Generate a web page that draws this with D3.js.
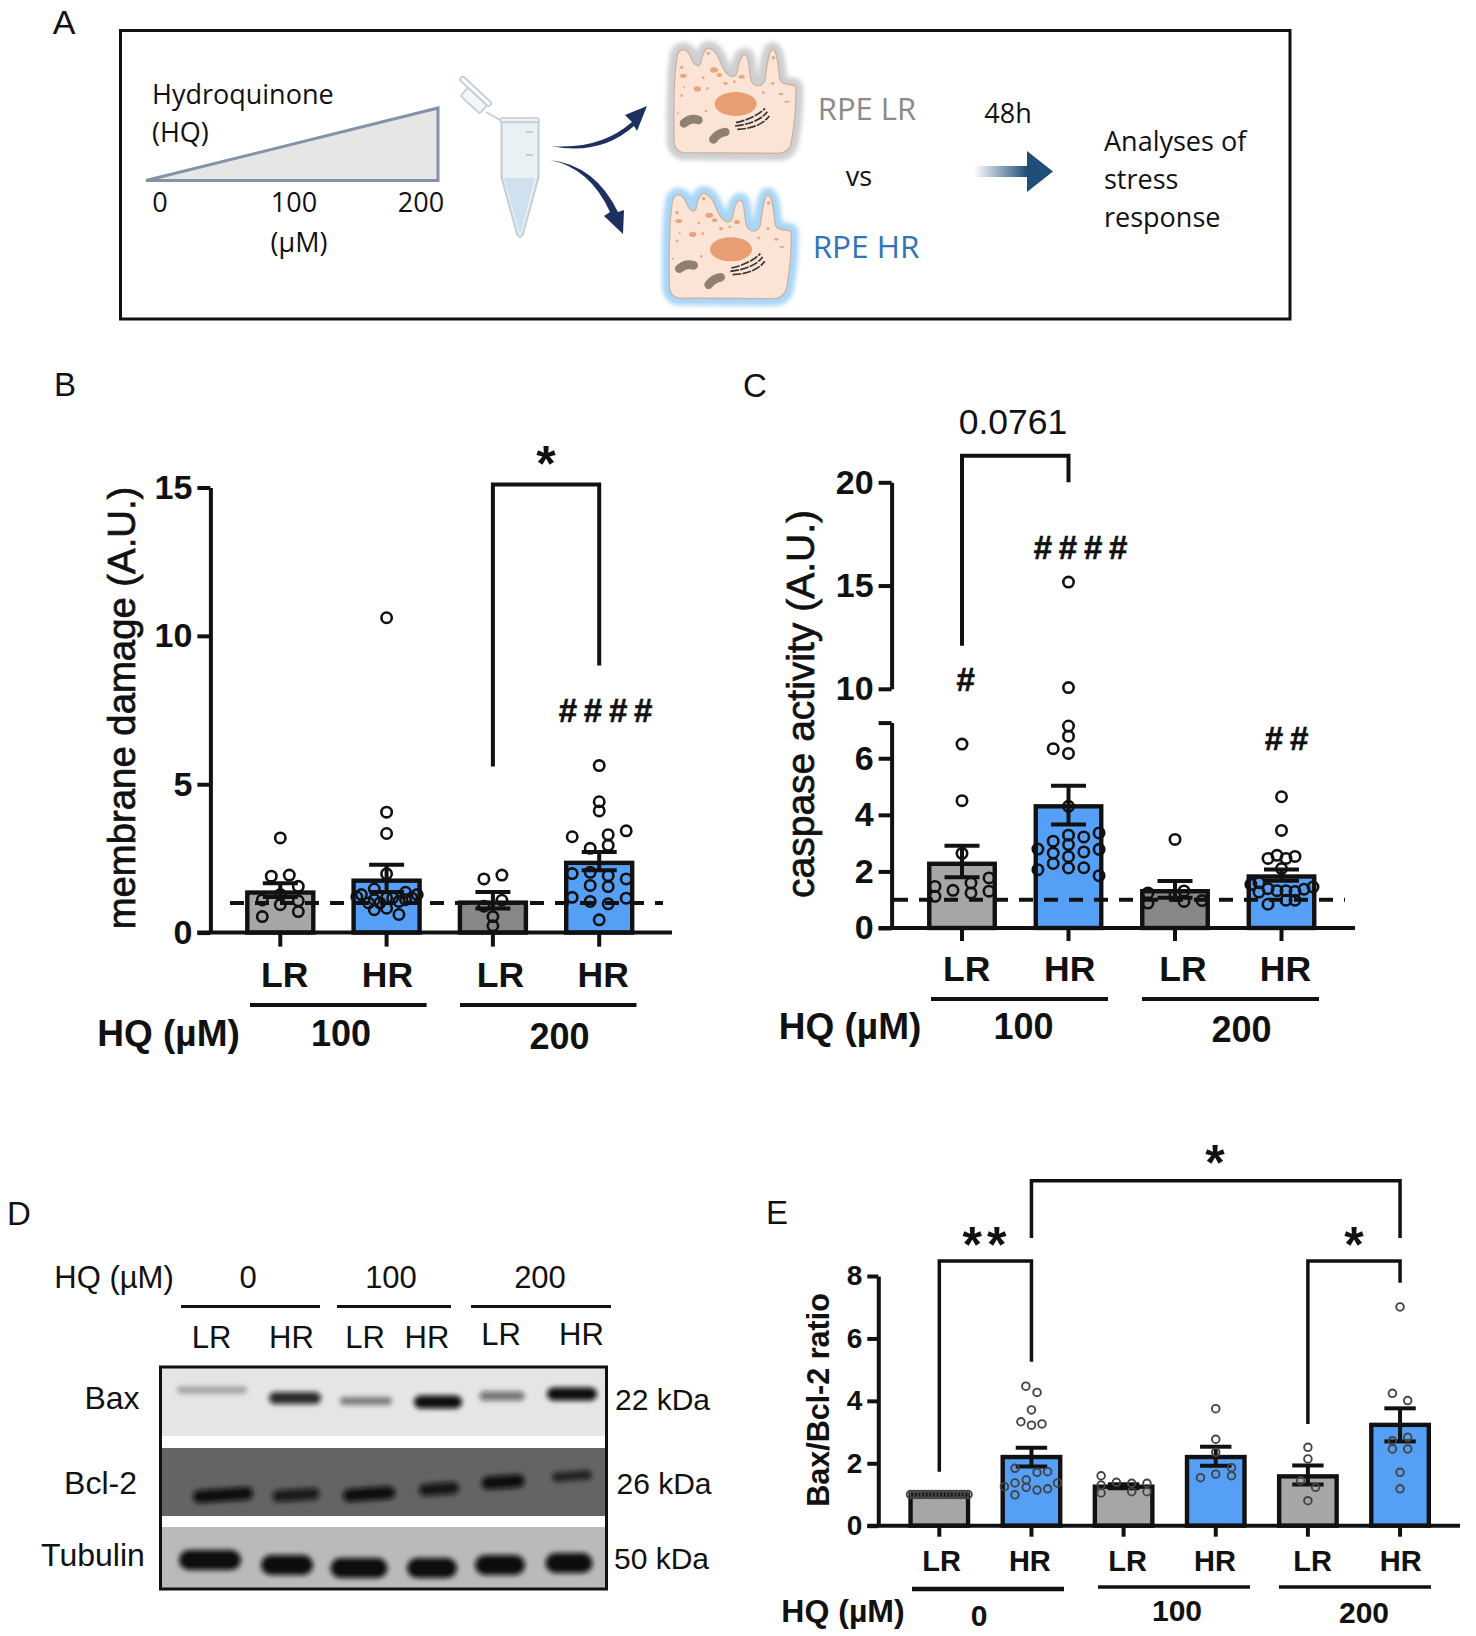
<!DOCTYPE html>
<html>
<head>
<meta charset="utf-8">
<title>HQ stress response</title>
<script src="https://cdn.jsdelivr.net/npm/d3@7"></script>
<style>
  html, body { margin: 0; padding: 0; background: #fff; }
  svg { display: block; }
  text { font-family: "Liberation Sans", Arial, sans-serif; fill: #111; }
</style>
</head>
<body>
<div id="chart"></div>
<script>
// ------ data
const barIds = ['a', 'b', 'c', 'd']
const barIdsE = ['a', 'b', 'c', 'd', 'e', 'f']
const groupLabels = ['LR', 'HR', 'LR', 'HR']
const groupLabelsE = ['LR', 'HR', 'LR', 'HR', 'LR', 'HR']

const ticksB = [0, 5, 10, 15]
const meansB = [1.35, 1.75, 1.01, 2.35]
const upperB = [1.66, 2.29, 1.37, 2.72]
const lowerB = [1.2, 1.37, 0.81, 2.1]
const pointsB = [
  [3.19, 1.9, 1.94, 1.56, 1.1, 1.28, 0.94, 1.07, 0.71, 0.54],
  [10.61, 4.06, 3.34, 1.98, 1.47, 1.28, 1.2, 1.36, 1.28, 0.77, 0.82, 0.61, 1, 1.11, 1, 1.17, 1.17, 1.05, 1.11, 1.17],
  [1.81, 1.94, 1.09, 0.89, 0.54, 0.23],
  [5.63, 4.41, 4.1, 3.43, 3.23, 3.3, 2.94, 2.84, 1.99, 2.03, 1.92, 1.81, 1.59, 1.55, 1.19, 1.16, 1.05, 0.97, 0.43]
]
// swarm columns of the points, same order as the values
const slotsB = [
  [0, -1, 1, 2, -2, 0, 0, 2, 2, -2],
  [0, 0, 0, 0, -1.37, -2.8, -3.3, 2.1, 3.4, -1.37, 0, 1.37, -2, -1.37, -0.75, 0, 0.67, 1.37, 2.1, 2.8],
  [-1, 1, 1, -1, 0, 0],
  [0, 0, 0, 3, -3, 1, 1, -1, -3, -1, 1, 3, -1, 1, -3, 3, -1, 1, 0]
]

const ticksCLow = [0, 2, 4, 6]
const ticksCHigh = [10, 15, 20]
const meansC = [2.27, 4.3, 1.3, 1.82]
const upperC = [2.91, 5.03, 1.66, 2.07]
const lowerC = [1.79, 3.66, 1.07, 1.67]
const pointsC = [
  [6.5, 4.5, 2.64, 1.47, 1.12, 1.33, 1.59, 1.24, 1.77, 1.3],
  [15.17, 10.06, 7.14, 6.78, 6.34, 6.17, 4.3, 3.07, 3.28, 3.22, 3.36, 2.95, 2.79, 2.78, 2.65, 2.69, 2.52, 2.28, 2.12, 2.13, 2.06, 1.85],
  [3.13, 1.24, 0.88, 1.31, 0.94, 0.97, 1.15],
  [4.64, 3.45, 2.46, 2.57, 2.46, 2.53, 2.1, 1.54, 1.27, 1.39, 1.32, 1.32, 1.29, 1.37, 1.45, 0.84, 0.98, 0.98, 1.6]
]
const slotsC = [
  [0, 0, 0, -3, -3, -1, 1, 1, 3, 3],
  [0, 0, 0, 0, -1.7, 0, 0, -1.7, 0, 1.7, 3.4, 0, -3.4, 3.4, -1.7, 1.7, 0, -1.7, 0, 1.7, -3.4, 3.4],
  [0, -3, -3, 1, 1, 3, 0],
  [0, 0, -1.5, -0.5, 0.5, 1.5, 0, -3.4, -2.5, -1.5, -0.5, 0.5, 1.5, 2.5, 3.5, -1.5, 0.5, 1.5, -2.5]
]

const ticksE = [0, 2, 4, 6, 8]
const meansE = [1, 2.2, 1.25, 2.2, 1.58, 3.23]
const upperE = [1, 2.5, 1.33, 2.53, 1.93, 3.76]
const lowerE = [1, 1.9, 1.2, 1.92, 1.32, 2.7]
const pointsE = [
  [1, 1, 1, 1, 1, 1, 1, 1, 1, 1, 1, 1, 1, 1, 1, 1, 1],
  [4.47, 4.27, 3.71, 3.33, 3.22, 3.26, 1.84, 1.71, 1.73, 1.47, 1.37, 1.25, 1.37, 1.23, 1.14, 1.18, 0.99],
  [1.6, 1.3, 1.05, 1.39, 1.36, 1.36, 1.09, 1.09],
  [3.75, 2.77, 2.35, 1.86, 1.54, 1.65, 1.6],
  [2.51, 2.14, 1.44, 1.23, 0.8],
  [7.01, 4.24, 4.01, 2.72, 2.83, 2.46, 2.46, 1.71, 1.18]
]
const slotsE = [
  [-3.2, -2.8, -2.4, -2, -1.6, -1.2, -0.8, -0.4, 0, 0.4, 0.8, 1.2, 1.6, 2, 2.4, 2.8, 3.2],
  [-0.62, 0.62, 0, -1.17, 0, 1.17, -1.83, 0.62, 1.8, -0.58, -1.83, -3, 2.9, -0.58, 0.62, 1.8, -1.83],
  [-2.5, -2.5, -2.5, -0.8, 0.9, 2.6, 0.9, 2.6],
  [0, 0, 0, 1.75, -1.7, 0, 1.75],
  [0, 0, -0.8, 0.85, 0],
  [0, -0.85, 0.85, -0.85, 0.85, -0.85, 0.85, 0, 0]
]

// blot band strength per lane (0 faint, 1 dark)
const bandsBax = [0.22, 0.85, 0.4, 1, 0.5, 1]
const bandsBcl = [1, 0.85, 1, 0.9, 1, 0.6]
const bandsTub = [1, 1, 1, 1, 1, 1]

const GREY = '#a6a6a9'
const GREY_DARK = '#87878a'
const BLUE = '#559ff6'

const svg = d3.select('#chart').append('svg')
  .attr('width', 1476)
  .attr('height', 1636)
  .attr('viewBox', '0 0 1476 1636')

const defs = svg.append('defs')
defs.append('filter').attr('id', 'band')
  .attr('x', '-30%').attr('y', '-60%').attr('width', '160%').attr('height', '220%')
  .append('feGaussianBlur').attr('stdDeviation', 2.6)

const arrowGrad = defs.append('linearGradient').attr('id', 'fade')
arrowGrad.append('stop').attr('offset', '0').attr('stop-color', '#fff')
arrowGrad.append('stop').attr('offset', '1').attr('stop-color', '#1f4e79')

function label(g, x, y, str, size, opts = {}) {
  return g.append('text')
    .attr('x', x)
    .attr('y', y)
    .attr('dy', '0.36em')
    .attr('text-anchor', opts.anchor || 'middle')
    .style('font-size', size + 'px')
    .style('font-weight', opts.weight || 'normal')
    .style('font-family', opts.family || null)
    .style('fill', opts.fill || null)
    .style('letter-spacing', opts.spacing || null)
    .text(str)
}

function rule(g, x1, y1, x2, y2, width, color = '#111') {
  return g.append('line')
    .attr('x1', x1).attr('y1', y1).attr('x2', x2).attr('y2', y2)
    .attr('stroke', color).attr('stroke-width', width)
}

const OPEN = '"Open Sans", sans-serif'

// ------ panel letters
label(svg, 64, 22, 'A', 34)
label(svg, 65, 384, 'B', 33)
label(svg, 755, 385, 'C', 33)
label(svg, 19, 1213, 'D', 33)
label(svg, 777, 1212, 'E', 33)

// ------ panel A, schematic
function drawCell(g, dx, dy, glow) {
  const outline = 'M672 330C672 250 668 150 682 75C690 50 712 55 722 80C732 105 745 115 752 100C756 75 765 50 780 55C800 60 808 90 820 115C835 140 855 150 862 125C866 95 875 70 888 75C900 85 895 130 905 155C915 170 935 175 945 150C950 110 955 60 968 58C985 65 985 120 990 150C1000 170 1035 160 1037 170C1040 230 1030 310 1022 345C1015 365 1000 370 980 370L700 368C680 365 672 350 672 330Z'
  const cell = g.append('g')
    .attr('transform', `translate(${450 + dx / 3},${30 + dy / 3}) scale(${1 / 3})`)
  cell.append('path').attr('d', outline)
    .attr('fill', glow).attr('stroke', glow).attr('stroke-width', 44)
    .style('filter', 'blur(7px)')
  cell.append('path').attr('d', outline)
    .attr('fill', '#fbe4d5').attr('stroke', '#c8b5a6').attr('stroke-width', 4)
  const drops = [[695, 112, 5, 5], [700, 137, 10, 6], [792, 120, 12, 8], [808, 135, 8, 6], [760, 143, 4, 4],
    [875, 140, 9, 6], [827, 160, 6, 5], [853, 155, 4, 4], [742, 177, 11, 8], [772, 175, 4, 4], [703, 172, 3, 3],
    [695, 197, 4, 4], [968, 160, 5, 4], [970, 83, 5, 5], [940, 188, 4, 4], [993, 192, 7, 4], [1010, 215, 8, 3],
    [775, 70, 5, 5], [768, 243, 4, 4], [683, 250, 3, 3]]
  cell.selectAll('ellipse.drop').data(drops).enter().append('ellipse')
    .attr('class', 'drop')
    .attr('cx', d => d[0]).attr('cy', d => d[1]).attr('rx', d => d[2]).attr('ry', d => d[3])
    .attr('fill', '#e9a67c')
  cell.append('ellipse').attr('cx', 857).attr('cy', 222).attr('rx', 63).attr('ry', 36).attr('fill', '#e79f72')
  ;['M702 280Q722 262 745 270', 'M790 328Q805 308 826 306'].forEach(d => {
    cell.append('path').attr('d', d)
      .attr('fill', 'none').attr('stroke', '#8f8072').attr('stroke-width', 26).attr('stroke-linecap', 'round')
  })
  ;['M858 278Q915 265 945 235', 'M855 288Q925 280 952 245', 'M862 298Q930 295 958 258'].forEach(d => {
    cell.append('path').attr('d', d)
      .attr('fill', 'none').attr('stroke', '#333').attr('stroke-width', 5).attr('stroke-dasharray', '26 4')
  })
}

function drawPanelA() {
  const g = svg.append('g')
  g.append('rect').attr('x', 120.5).attr('y', 30.5).attr('width', 1169.5).attr('height', 288.5)
    .attr('fill', '#fff').attr('stroke', '#111').attr('stroke-width', 3)

  g.append('path').attr('d', 'M146 180.5L438 180.5L438 108Z')
    .attr('fill', '#e6e6e6').attr('stroke', '#8492a8').attr('stroke-width', 3)

  label(g, 152, 94, 'Hydroquinone', 27, { anchor: 'start', family: OPEN })
  label(g, 152, 132, '(HQ)', 27, { anchor: 'start', family: OPEN })
  label(g, 160, 202, '0', 27, { family: OPEN })
  label(g, 294, 202, '100', 27, { family: OPEN })
  label(g, 421, 202, '200', 27, { family: OPEN })
  label(g, 299, 242, '(µM)', 27, { family: OPEN })

  // tube
  g.append('path').attr('d', 'M501.5 122L501.5 177L517 234Q520 240 523 234L538.5 177L538.5 122Z')
    .attr('fill', '#eaf1f4').attr('stroke', '#c3ced4').attr('stroke-width', 2)
  g.append('path').attr('d', 'M504 178L535 178L521 232Q520 235 519 232Z').attr('fill', '#cfe0ee')
  g.append('rect').attr('x', 500).attr('y', 118).attr('width', 39).attr('height', 4).attr('rx', 2)
    .attr('fill', '#eef3f5').attr('stroke', '#c3ced4').attr('stroke-width', 1.5)
  rule(g, 526, 132, 533, 132, 1.5, '#b5c0c6')
  rule(g, 526, 155, 533, 155, 1.5, '#b5c0c6')
  const cap = g.append('g').attr('transform', 'translate(474,96) rotate(43)')
  cap.append('rect').attr('x', -22).attr('y', -7).attr('width', 40).attr('height', 5).attr('rx', 2)
    .attr('fill', '#fff').attr('stroke', '#c3ced4').attr('stroke-width', 1.8)
  cap.append('rect').attr('x', -10).attr('y', -2).attr('width', 26).attr('height', 11).attr('rx', 2)
    .attr('fill', '#f2f6f8').attr('stroke', '#c3ced4').attr('stroke-width', 1.8)
  g.append('path').attr('d', 'M486 112L500 120').attr('fill', 'none').attr('stroke', '#c3ced4').attr('stroke-width', 2)

  // curved arrows
  g.append('path').attr('d', 'M551 146Q600 150 632 122L625 115L647 106L637 131L634 126Q600 156 551 146Z')
    .attr('fill', '#1f2f5f')
  g.append('path').attr('d', 'M550 160Q590 168 610 212L604 216L623 234L624 210L618 212Q595 165 550 160Z')
    .attr('fill', '#1f2f5f')

  drawCell(g, 0, 0, '#cfcfd2')
  drawCell(g, -14, 436, '#a9d6f7')

  label(g, 867, 109, 'RPE LR', 31, { family: OPEN, fill: '#8a8a8a' })
  label(g, 866, 247, 'RPE HR', 31.5, { family: OPEN, fill: '#2e75b6' })
  label(g, 859, 176, 'vs', 27, { family: OPEN })
  label(g, 1008, 113, '48h', 27, { family: OPEN })

  g.append('rect').attr('x', 974).attr('y', 166).attr('width', 53).attr('height', 11).attr('fill', 'url(#fade)')
  g.append('path').attr('d', 'M1027 151L1053 171.5L1027 192Z').attr('fill', '#1f4e79')

  label(g, 1104, 141, 'Analyses of', 27, { anchor: 'start', family: OPEN })
  label(g, 1104, 179, 'stress', 27, { anchor: 'start', family: OPEN })
  label(g, 1104, 217, 'response', 27, { anchor: 'start', family: OPEN })
}
drawPanelA()

// ------ bar panels
function bandScale(ids, firstCentre, step, barWidth) {
  const p = 1 - barWidth / step
  return d3.scaleBand()
    .domain(ids)
    .range([firstCentre - step / 2, firstCentre + step * (ids.length - 0.5)])
    .paddingInner(p)
    .paddingOuter(p / 2)
}

function drawBars(g, o) {
  const mid = d => o.x(d) + o.x.bandwidth() / 2
  const val = o.yOf || o.y

  g.append('g').selectAll('rect').data(o.ids).enter().append('rect')
    .attr('x', d => o.x(d))
    .attr('y', (d, i) => val(o.means[i]))
    .attr('width', o.x.bandwidth())
    .attr('height', (d, i) => val(0) - val(o.means[i]))
    .attr('fill', (d, i) => o.fills[i])
    .attr('stroke', '#111')
    .attr('stroke-width', 4.4)

  const err = g.append('g').attr('stroke', '#111').attr('stroke-width', 4)
  o.ids.forEach((d, i) => {
    err.append('line').attr('x1', mid(d)).attr('x2', mid(d)).attr('y1', val(o.upper[i])).attr('y2', val(o.lower[i]))
    ;[o.upper[i], o.lower[i]].forEach(v => {
      err.append('line').attr('x1', mid(d) - o.cap).attr('x2', mid(d) + o.cap).attr('y1', val(v)).attr('y2', val(v))
    })
  })

  o.ids.forEach((d, i) => {
    g.append('g').selectAll('circle')
      .data(o.points[i].map((v, j) => ({ v: v, slot: o.slots[i][j] })))
      .enter().append('circle')
      .attr('cx', p => mid(d) + p.slot * 9)
      .attr('cy', p => val(p.v))
      .attr('r', o.r)
      .attr('fill', 'none')
      .attr('stroke', o.dot)
      .attr('stroke-width', o.dotWidth)
  })

  // x axis, the baseline runs past the bars so it is drawn on its own
  g.append('g')
    .attr('transform', `translate(0,${val(0)})`)
    .call(d3.axisBottom(o.x).tickSize(o.tick).tickFormat(''))
    .call(a => a.select('.domain').remove())
    .call(a => a.selectAll('line').attr('stroke', '#111').attr('stroke-width', 4))
  rule(g, o.axisX, val(0), o.axisEnd, val(0), 4)

  o.labels.forEach((t, i) => {
    label(g, mid(o.ids[i]) + o.labelDx[i], o.labelY, t, o.labelSize, { weight: 'bold' })
  })
}

function styleAxis(a, size) {
  a.selectAll('path.domain').attr('stroke', '#111').attr('stroke-width', 4)
  a.selectAll('.tick line').attr('stroke', '#111').attr('stroke-width', 4)
  a.selectAll('.tick text')
    .style('font-size', size + 'px')
    .style('font-weight', 'bold')
    .style('fill', '#111')
}

function bracket(g, x1, yBottom1, x2, yBottom2, yTop, width = 4) {
  g.append('path')
    .attr('d', d3.line()([[x1, yBottom1], [x1, yTop], [x2, yTop], [x2, yBottom2]]))
    .attr('fill', 'none')
    .attr('stroke', '#111')
    .attr('stroke-width', width)
}

function dashed(g, x1, x2, y) {
  rule(g, x1, y, x2, y, 4).attr('stroke-dasharray', '14 11')
}

function star(g, x, y, str) {
  g.append('text')
    .attr('x', x).attr('y', y + 21)
    .attr('text-anchor', 'middle')
    .style('font-size', '50px')
    .style('font-weight', 'bold')
    .style('letter-spacing', str.length > 1 ? '5px' : null)
    .text(str)
}

function hashes(g, x, y, str) {
  label(g, x, y, str, 33, { weight: 'bold', spacing: '-1.2px' })
    .style('stroke', '#111').style('stroke-width', 0.6)
}

function drawPanelB() {
  const g = svg.append('g')
  const x = bandScale(barIds, 280.3, 106.3, 66)
  const y = d3.scaleLinear().domain([0, 15]).range([932.6, 487.5])
  const axisX = 210.4

  g.append('g')
    .attr('transform', `translate(${axisX},0)`)
    .call(d3.axisLeft(y).tickValues(ticksB).tickSize(13).tickSizeOuter(0).tickPadding(5))
    .call(a => styleAxis(a, 34))

  drawBars(g, {
    ids: barIds, x, y, means: meansB, upper: upperB, lower: lowerB, points: pointsB, slots: slotsB,
    fills: [GREY, BLUE, GREY_DARK, BLUE],
    cap: 17.5, r: 5.2, dot: '#111', dotWidth: 2.6, tick: 14,
    axisX: axisX - 13, axisEnd: 672,
    labels: groupLabels, labelDx: [4.4, 0.8, 7.5, 4], labelY: 974, labelSize: 35.5
  })
  dashed(g, 230, 663, y(1))

  bracket(g, x('c') + x.bandwidth() / 2, y(5.6), x('d') + x.bandwidth() / 2, y(9), y(15.1))
  star(g, 546, 460, '*')
  hashes(g, 605, 710, '# # # #')

  rule(g, 250, 1005, 426.6, 1005, 4)
  rule(g, 460, 1005, 636.5, 1005, 4)
  label(g, 168.5, 1033, 'HQ (µM)', 37, { weight: 'bold' })
  label(g, 341, 1033, '100', 36, { weight: 'bold' })
  label(g, 559.5, 1036, '200', 36, { weight: 'bold' })

  g.append('text')
    .attr('transform', `translate(121,708) rotate(-90)`)
    .attr('dy', '0.36em')
    .attr('text-anchor', 'middle')
    .style('font-size', '38.3px')
    .style('stroke', '#111').style('stroke-width', 0.7)
    .text('membrane damage (A.U.)')
}
drawPanelB()

function drawPanelC() {
  const g = svg.append('g')
  const x = bandScale(barIds, 962, 106.5, 65.5)
  const yLow = d3.scaleLinear().domain([0, 7.26]).range([928, 722.6])
  const yHigh = d3.scaleLinear().domain([10, 20]).range([688.8, 482.3])
  const yOf = v => (v <= 7.26 ? yLow(v) : yHigh(v))
  const axisX = 891.6

  g.append('g')
    .attr('transform', `translate(${axisX},0)`)
    .call(d3.axisLeft(yLow).tickValues(ticksCLow.concat([7.26])).tickSize(13).tickSizeOuter(0).tickPadding(5)
      .tickFormat(d => (ticksCLow.includes(d) ? d : '')))
    .call(a => styleAxis(a, 34))
  g.append('g')
    .attr('transform', `translate(${axisX},0)`)
    .call(d3.axisLeft(yHigh).tickValues(ticksCHigh).tickSize(13).tickSizeOuter(0).tickPadding(5))
    .call(a => styleAxis(a, 34))

  drawBars(g, {
    ids: barIds, x, y: yOf, yOf, means: meansC, upper: upperC, lower: lowerC, points: pointsC, slots: slotsC,
    fills: [GREY, BLUE, GREY_DARK, BLUE],
    cap: 17.5, r: 5.2, dot: '#111', dotWidth: 2.6, tick: 13,
    axisX: axisX - 13, axisEnd: 1355,
    labels: groupLabels, labelDx: [4.7, 1.2, 8, 4], labelY: 968.5, labelSize: 35.5
  })
  dashed(g, 894, 1345, yOf(1))

  bracket(g, x('a') + x.bandwidth() / 2, yOf(12.09), x('b') + x.bandwidth() / 2, yOf(20), yOf(21.28))
  label(g, 1013, 421, '0.0761', 35.5)
  hashes(g, 1080, 547, '# # # #')
  hashes(g, 965, 679, '#')
  hashes(g, 1286, 738, '# #')

  rule(g, 931, 999, 1108, 999, 4)
  rule(g, 1142, 999, 1319, 999, 4)
  label(g, 850, 1026, 'HQ (µM)', 37, { weight: 'bold' })
  label(g, 1023.5, 1026, '100', 36, { weight: 'bold' })
  label(g, 1241.5, 1029, '200', 36, { weight: 'bold' })

  g.append('text')
    .attr('transform', `translate(800,704) rotate(-90)`)
    .attr('dy', '0.36em')
    .attr('text-anchor', 'middle')
    .style('font-size', '39px')
    .style('stroke', '#111').style('stroke-width', 0.7)
    .text('caspase activity (A.U.)')
}
drawPanelC()

function drawPanelD() {
  const g = svg.append('g')
  const left = 160.5
  const right = 606.5

  const strips = [
    { top: 1367, bottom: 1436, fill: '#e5e5e5', ink: '#0c0c0c', rows: bandsBax, tilt: 0, thick: null,
      bands: [[212, 1390, 70], [295, 1398, 52], [366, 1401, 52], [438, 1402, 48], [502, 1396, 45], [572, 1394, 50]] },
    { top: 1448, bottom: 1516, fill: '#646464', ink: '#0a0a0a', rows: bandsBcl, tilt: -4, thick: null,
      bands: [[223, 1495, 60], [296, 1495, 47], [369, 1494, 52], [439, 1489, 40], [503, 1482, 43], [572, 1476, 40]] },
    { top: 1527, bottom: 1589, fill: '#bababa', ink: '#0a0a0a', rows: bandsTub, tilt: 0, thick: 20,
      bands: [[210, 1560, 62], [287, 1565, 52], [359, 1568, 57], [432, 1568, 50], [500, 1565, 50], [569, 1563, 47]] }
  ]
  const strength = d3.scaleLinear().domain([0, 1]).range([0.1, 1])
  strips.forEach(s => {
    g.append('rect').attr('x', left).attr('y', s.top).attr('width', right - left).attr('height', s.bottom - s.top)
      .attr('fill', s.fill)
    const lanes = g.append('g').attr('filter', 'url(#band)')
    s.bands.forEach((d, i) => {
      const h = s.thick || 5 + 8 * s.rows[i]
      lanes.append('rect')
        .attr('x', d[0] - d[2] / 2)
        .attr('y', d[1] - h / 2)
        .attr('width', d[2])
        .attr('height', h)
        .attr('rx', h / 2)
        .attr('transform', `rotate(${s.tilt},${d[0]},${d[1]})`)
        .attr('fill', s.ink)
        .attr('opacity', strength(s.rows[i]))
    })
  })
  g.append('rect').attr('x', left).attr('y', 1367).attr('width', right - left).attr('height', 222)
    .attr('fill', 'none').attr('stroke', '#111').attr('stroke-width', 3)

  label(g, 114, 1277, 'HQ (µM)', 31)
  label(g, 248, 1277, '0', 31)
  label(g, 391, 1277, '100', 31)
  label(g, 540, 1277, '200', 31)
  rule(g, 181, 1306.5, 320, 1306.5, 3)
  rule(g, 337, 1306.5, 451, 1306.5, 3)
  rule(g, 471, 1306.5, 611, 1306.5, 3)

  label(g, 211.5, 1337, 'LR', 31)
  label(g, 291.5, 1337, 'HR', 31)
  label(g, 365, 1337, 'LR', 31)
  label(g, 427, 1337, 'HR', 31)
  label(g, 501, 1334, 'LR', 31)
  label(g, 581.5, 1334, 'HR', 31)

  label(g, 112, 1397, 'Bax', 32)
  label(g, 100.5, 1482, 'Bcl-2', 32)
  label(g, 93, 1554, 'Tubulin', 32)
  label(g, 662.5, 1399, '22 kDa', 30)
  label(g, 664, 1483, '26 kDa', 30)
  label(g, 661.5, 1558, '50 kDa', 30)
}
drawPanelD()

function drawPanelE() {
  const g = svg.append('g')
  const x = bandScale(barIdsE, 939.3, 92.15, 57.5)
  const y = d3.scaleLinear().domain([0, 8]).range([1525.7, 1276])
  const axisX = 878.3

  g.append('g')
    .attr('transform', `translate(${axisX},0)`)
    .call(d3.axisLeft(y).tickValues(ticksE).tickSize(11).tickSizeOuter(0).tickPadding(5))
    .call(a => styleAxis(a, 28))

  drawBars(g, {
    ids: barIdsE, x, y, means: meansE, upper: upperE, lower: lowerE, points: pointsE, slots: slotsE,
    fills: [GREY, BLUE, GREY, BLUE, GREY, BLUE],
    cap: 15.7, r: 3.8, dot: '#444', dotWidth: 1.9, tick: 11,
    axisX: axisX - 11, axisEnd: 1460,
    labels: groupLabelsE, labelDx: [2.4, -1.6, 4, -0.8, 4.7, 0.6], labelY: 1561, labelSize: 29
  })

  const mid = d => x(d) + x.bandwidth() / 2
  bracket(g, mid('b'), y(9.22), mid('f'), y(9.22), y(11.05), 3.5)
  bracket(g, mid('a'), y(1.73), mid('b'), y(5.25), y(8.48), 3.5)
  bracket(g, mid('e'), y(3.26), mid('f'), y(7.78), y(8.48), 3.5)
  star(g, 1215, 1159, '*')
  star(g, 987, 1241, '**')
  star(g, 1354, 1241, '*')

  rule(g, 912, 1589, 1064, 1589, 4.5)
  rule(g, 1098, 1587, 1250, 1587, 3.5)
  rule(g, 1279, 1587, 1431, 1587, 3.5)
  label(g, 843, 1610, 'HQ (µM)', 32, { weight: 'bold' })
  label(g, 979, 1615, '0', 30, { weight: 'bold' })
  label(g, 1177, 1610, '100', 30, { weight: 'bold' })
  label(g, 1364, 1612, '200', 30, { weight: 'bold' })

  g.append('text')
    .attr('transform', `translate(818,1400) rotate(-90)`)
    .attr('dy', '0.36em')
    .attr('text-anchor', 'middle')
    .style('font-size', '30.5px')
    .style('font-weight', 'bold')
    .text('Bax/Bcl-2 ratio')
}
drawPanelE()
</script>
</body>
</html>
